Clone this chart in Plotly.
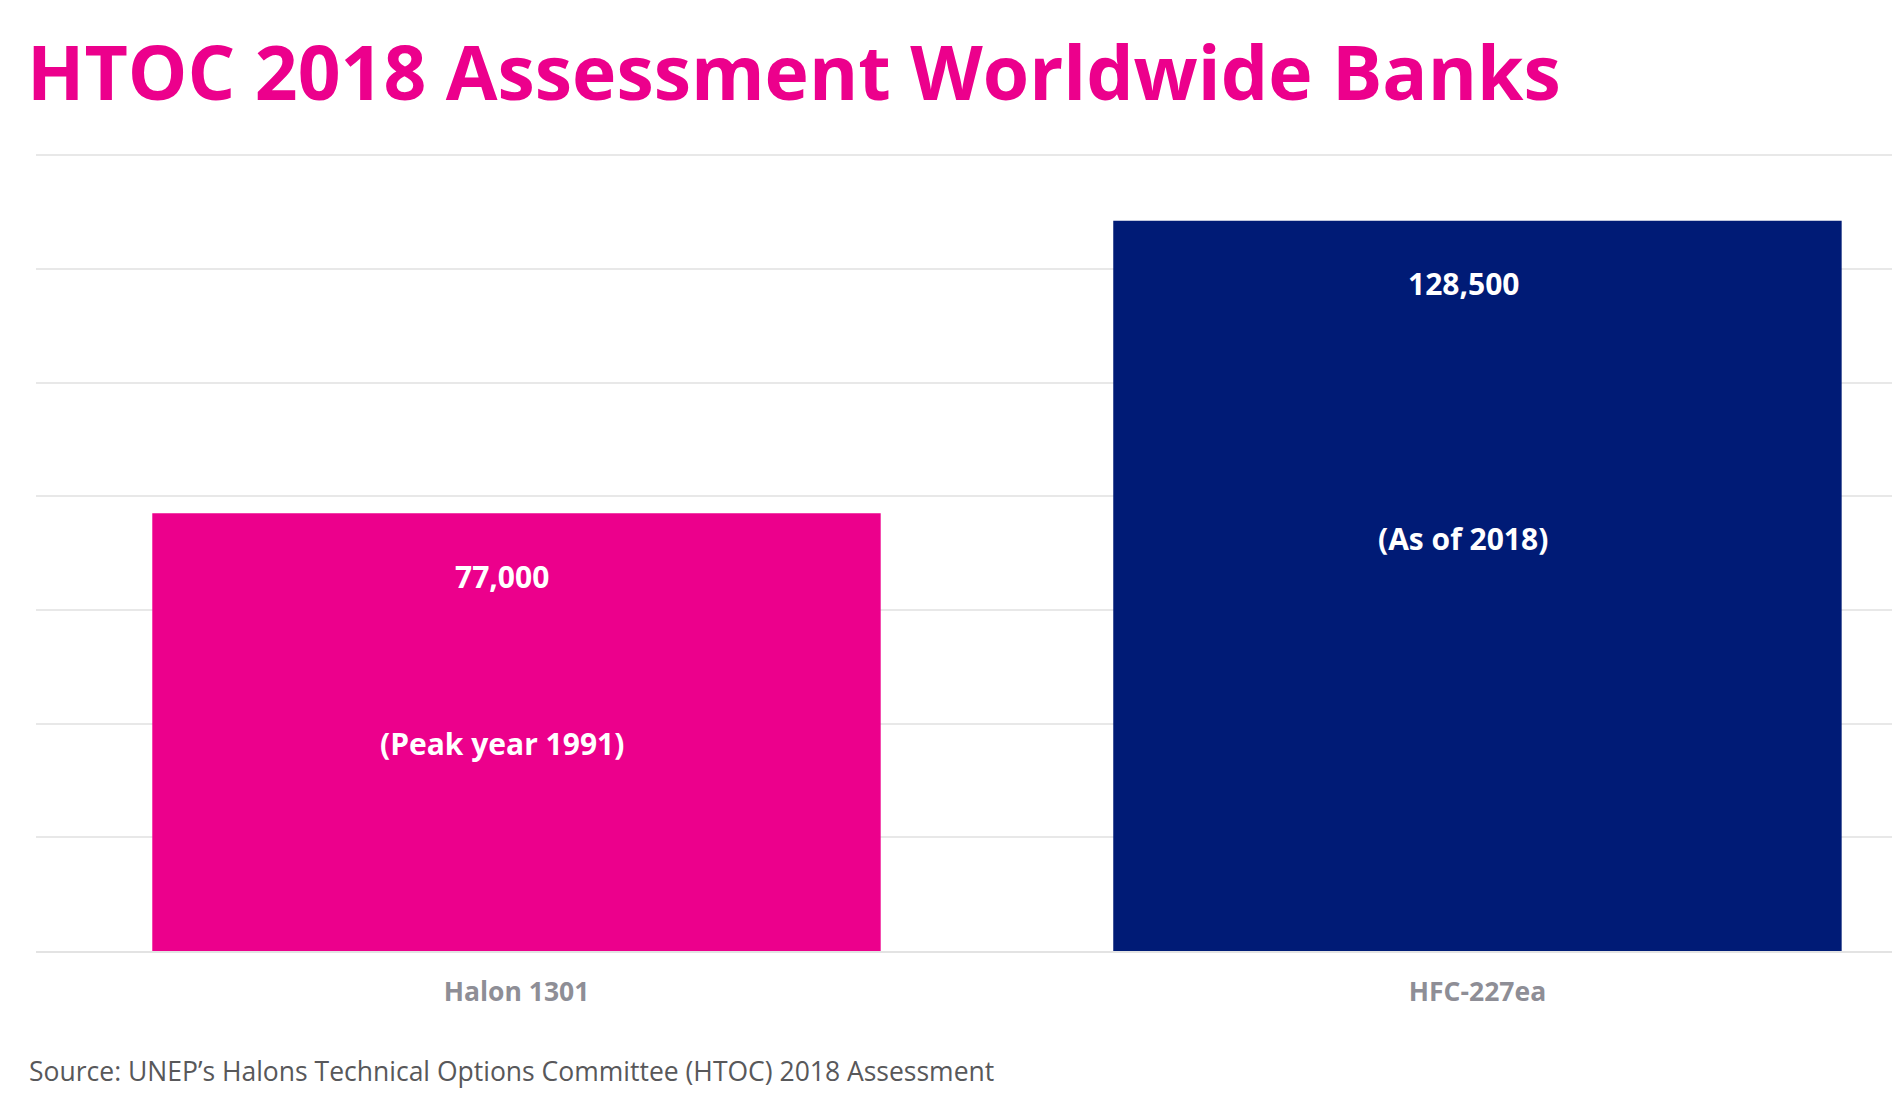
import plotly.graph_objects as go

# HTOC 2018 worldwide banks (tonnes)
agents = ["Halon 1301", "HFC-227ea"]
banks = [77000, 128500]
notes = ["(Peak year 1991)", "(As of 2018)"]
bar_colors = ["#EC008C", "#001B76"]

# px below the bar top where each note sits
note_offset = [230, 318]

# page body has an 8px margin, so the figure is 8px smaller than the window
W, H = 1892, 1087

fig = go.Figure(go.Bar(
    x=agents,
    y=banks,
    width=0.758,
    marker={"color": bar_colors, "line": {"width": 0}},
    hoverinfo="skip",
))

lbl_font = {"family": "Open Sans", "size": 30, "color": "white", "weight": "bold"}
for a, v, n, off in zip(agents, banks, notes, note_offset):
    fig.add_annotation(x=a, y=v, text=f"{v:,}", showarrow=False,
                       yanchor="middle", yshift=-63, xshift=-14, font=lbl_font)
    fig.add_annotation(x=a, y=v, text=n, showarrow=False,
                       yanchor="middle", yshift=-off, xshift=-14, font=lbl_font)

fig.add_annotation(
    text="Source: UNEP’s Halons Technical Options Committee (HTOC) 2018 Assessment",
    xref="paper", yref="paper", x=-0.005, y=-0.151,
    xanchor="left", yanchor="middle", showarrow=False,
    font={"family": "Open Sans", "size": 26.5, "color": "#58585a"},
)

fig.update_layout(
    width=W,
    height=H,
    title={
        "text": "HTOC 2018 Assessment Worldwide Banks",
        "xref": "container", "yref": "container",
        "x": 19 / W, "xanchor": "left",
        "y": 1 - 65.5 / H, "yanchor": "middle",
        "font": {"family": "Open Sans", "size": 75, "color": "#EC008C", "weight": "bold"},
    },
    margin={"l": 28, "r": 0, "t": 145, "b": 144},
    paper_bgcolor="white",
    plot_bgcolor="white",
    showlegend=False,
    xaxis={
        "range": [-0.5, 1.4397],
        "showgrid": False,
        "showline": True,
        "linecolor": "#e3e3e3",
        "linewidth": 2,
        "ticks": "",
        "tickfont": {"family": "Open Sans", "size": 26.5, "color": "#8e8e96", "weight": "bold"},
        "ticklabelstandoff": 16,
    },
    yaxis={
        "range": [0, 140400],
        "tick0": 0,
        "dtick": 20000,
        "showticklabels": False,
        "gridcolor": "#e8e8e8",
        "gridwidth": 2,
        "zeroline": False,
    },
)

fig.write_html("out.html")
